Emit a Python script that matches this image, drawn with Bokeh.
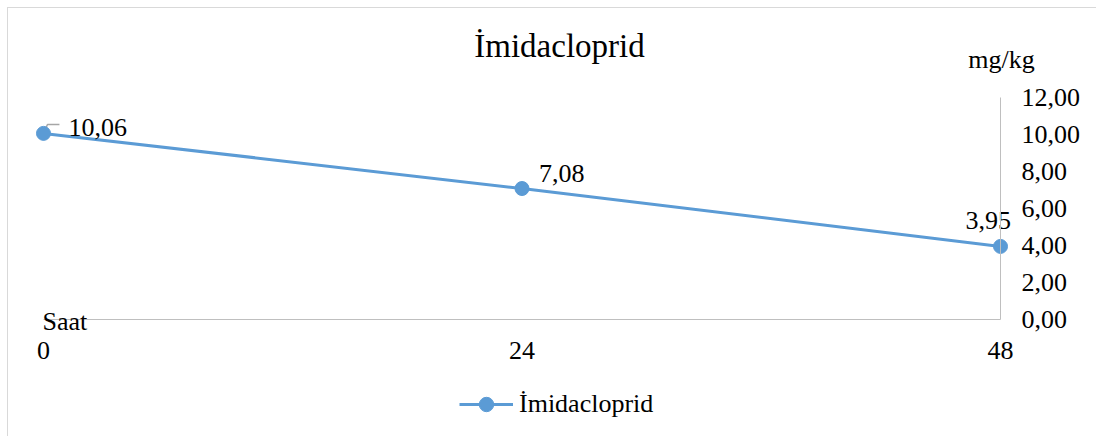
from bokeh.plotting import figure
from bokeh.models import (Range1d, LinearAxis, FixedTicker, Label, Legend,
                          LegendItem, CustomJSTickFormatter)
from bokeh.core.properties import value
from bokeh.embed import file_html
from bokeh.resources import INLINE

# ---- data ----
hours = [0, 24, 48]
residue = [10.06, 7.08, 3.95]
residue_labels = ["10,06", "7,08", "3,95"]
y_ticks = [0, 2, 4, 6, 8, 10, 12]
series_name = "İmidacloprid"
title_text = "İmidacloprid"
x_title = "Saat"
y_title = "mg/kg"

# ---- layout (pixels) ----
W, H = 1089, 429
PLOT_L, PLOT_R = 35, 992      # canvas x of hour 0 and hour 48
PLOT_T, PLOT_B = 89, 311      # canvas y of 12 and 0
label_dx = [25, 17, -35]      # data label offsets (px)
label_dy = [-6, -15, -26]

FONT = "'Liberation Serif', 'Times New Roman', serif"
BLUE = "#5B9BD5"
AXIS_GRAY = "#BFBFBF"

x0, x1 = hours[0], hours[-1]
y0, y1 = y_ticks[0], y_ticks[-1]
sx = (PLOT_R - PLOT_L) / (x1 - x0)
sy = (PLOT_B - PLOT_T) / (y1 - y0)
x_range = Range1d(x0 - PLOT_L / sx, x1 + (W - PLOT_R) / sx)
y_range = Range1d(y0 - (H - PLOT_B) / sy, y1 + PLOT_T / sy)

p = figure(width=W, height=H, output_backend="svg", toolbar_location=None,
           x_range=x_range, y_range=y_range,
           x_axis_location=None, y_axis_location=None,
           min_border=0, min_border_left=0, min_border_right=0,
           min_border_top=0, min_border_bottom=0)
p.title.visible = False
p.styles = {"margin-left": "7px", "margin-top": "7px",
            "border-top": "1px solid #D9D9D9", "border-left": "1px solid #D9D9D9"}
p.outline_line_color = None
p.xgrid.visible = False
p.ygrid.visible = False
p.background_fill_color = "white"
p.border_fill_color = "white"

yaxis = LinearAxis(ticker=FixedTicker(ticks=y_ticks), fixed_location=x1, bounds=(y0, y1),
                   formatter=CustomJSTickFormatter(code="return tick.toFixed(2).replace('.', ',');"))
xaxis = LinearAxis(ticker=FixedTicker(ticks=hours), fixed_location=y0, bounds=(x0, x1))
for ax, standoff in ((yaxis, 21), (xaxis, 22)):
    ax.axis_line_color = AXIS_GRAY
    ax.axis_line_width = 1
    ax.major_tick_line_color = None
    ax.minor_tick_line_color = None
    ax.major_tick_out = 0
    ax.major_tick_in = 0
    ax.minor_tick_out = 0
    ax.minor_tick_in = 0
    ax.major_label_text_font = FONT
    ax.major_label_text_font_size = "26px"
    ax.major_label_text_color = "black"
    ax.major_label_standoff = standoff
p.add_layout(yaxis, "right")
p.add_layout(xaxis, "below")

# leader line for the first data label
p.line([hours[0], hours[0] + 0.2, hours[0] + 0.8],
       [residue[0], residue[0] + 0.48, residue[0] + 0.48],
       line_color="#A6A6A6", line_width=1.5)

r_line = p.line(hours, residue, line_color=BLUE, line_width=3)
r_pts = p.scatter(hours, residue, size=14, fill_color=BLUE, line_color=BLUE)

p.text(x=hours, y=residue, text=residue_labels, x_offset=label_dx, y_offset=label_dy,
       text_font=value(FONT), text_font_size="26px", text_baseline="middle",
       text_align="left", text_color="black")

common = dict(x_units="screen", y_units="screen", text_font=FONT,
              text_color="black", text_baseline="middle")
p.add_layout(Label(x=551, y=H - 37, text=title_text, text_align="center",
                   text_font_size="33px", **common))
p.add_layout(Label(x=993, y=H - 51, text=y_title, text_align="center",
                   text_font_size="26px", **common))
p.add_layout(Label(x=PLOT_L - 1, y=H - 313, text=x_title, text_align="left",
                   text_font_size="26px", **common))

legend = Legend(items=[LegendItem(label=series_name, renderers=[r_line, r_pts])],
                location=(451, 15), orientation="horizontal",
                border_line_color=None, background_fill_alpha=0,
                padding=0, margin=0, spacing=0,
                glyph_width=54, glyph_height=36, label_standoff=6,
                label_text_font=FONT, label_text_font_size="26px",
                label_text_color="black")
p.add_layout(legend, "center")

open("out.html", "w").write(file_html(p, INLINE))
